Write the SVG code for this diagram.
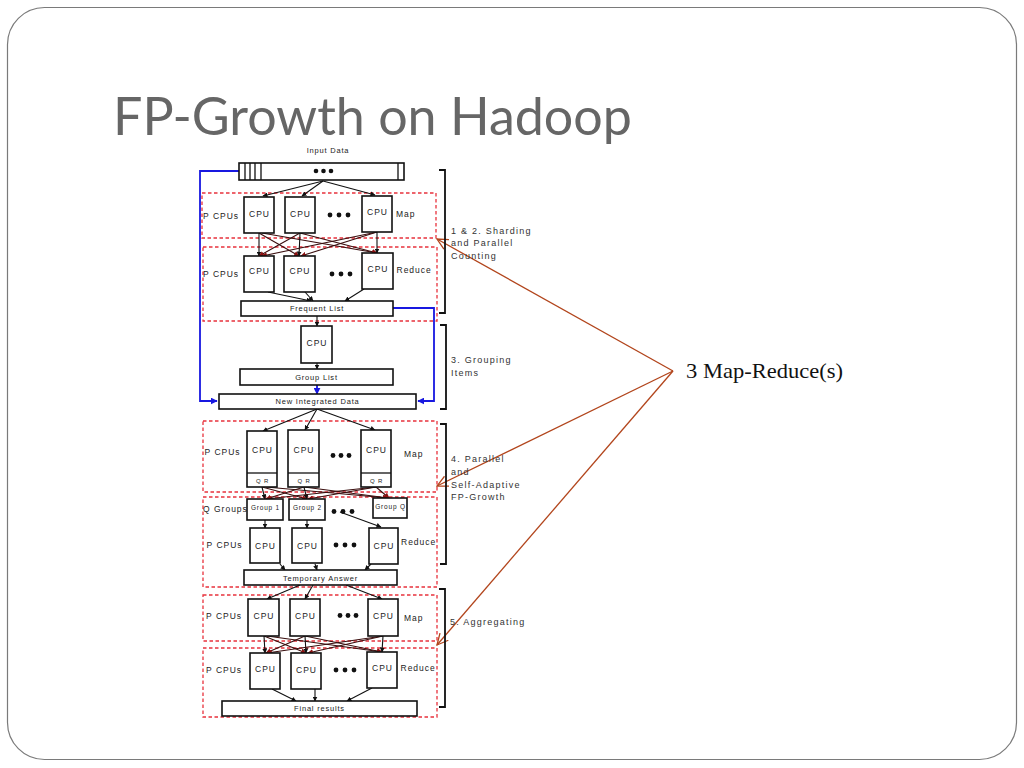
<svg xmlns="http://www.w3.org/2000/svg" width="1024" height="768" viewBox="0 0 1024 768">
<defs>
<style>
.frame{fill:#fff;stroke:#7a7a7a;stroke-width:1.2}
.title{font-family:Lato,"Liberation Sans",sans-serif;font-size:52px;fill:#666}
.note{font-family:"Liberation Serif",serif;font-size:21px;fill:#111}
.box{fill:#fff;stroke:#111;stroke-width:1.6}
.t{font-family:"Liberation Sans",Arial,sans-serif;font-size:8.5px;letter-spacing:1px;fill:#222}
.c{text-anchor:middle}
.s{font-size:7.5px;letter-spacing:0.8px}
.g{font-size:6.5px;letter-spacing:0.8px}
.q{font-size:6px;letter-spacing:0.8px}
.sec{font-family:"Liberation Sans",Arial,sans-serif;font-size:9px;letter-spacing:1.25px;fill:#333}
.dash{fill:none;stroke:#e8323c;stroke-width:1.3;stroke-dasharray:3.5 2.5}
.e{fill:none;stroke:#111;stroke-width:1.1;marker-end:url(#ah)}
.x{fill:none;stroke:#3a0e0e;stroke-width:1.1;marker-end:url(#ahr)}
.blue{fill:none;stroke:#1818e0;stroke-width:1.8}
.brk{fill:none;stroke:#111;stroke-width:1.8}
.ann{fill:none;stroke:#b2451c;stroke-width:1.3;marker-end:url(#oh)}
.dot{fill:#111}
</style>
<marker id="ah" viewBox="0 0 10 10" refX="9" refY="5" markerWidth="5" markerHeight="5" orient="auto" markerUnits="userSpaceOnUse"><path d="M0,0L10,5L0,10z" fill="#111"/></marker>
<marker id="ahr" viewBox="0 0 10 10" refX="9" refY="5" markerWidth="5.5" markerHeight="5.5" orient="auto" markerUnits="userSpaceOnUse"><path d="M0,0L10,5L0,10z" fill="#8a1010"/></marker>
<marker id="ab" viewBox="0 0 10 10" refX="9" refY="5" markerWidth="7" markerHeight="7" orient="auto" markerUnits="userSpaceOnUse"><path d="M0,0L10,5L0,10z" fill="#1818e0"/></marker>
<marker id="oh" viewBox="0 0 12 12" refX="11" refY="6" markerWidth="12" markerHeight="12" orient="auto" markerUnits="userSpaceOnUse"><path d="M0,0.5L11,6L0,11.5" fill="none" stroke="#b2451c" stroke-width="1.3"/></marker>
</defs>

<rect class="frame" x="7.5" y="7.5" width="1009" height="752" rx="37" ry="37"/>
<text class="title" x="113" y="135" textLength="519" lengthAdjust="spacingAndGlyphs">FP-Growth on Hadoop</text>

<!-- dashed regions -->
<g id="regions">
<rect class="dash" x="202" y="193" width="234" height="45"/>
<rect class="dash" x="203" y="247" width="234" height="74"/>
<rect class="dash" x="203" y="421" width="234" height="71"/>
<rect class="dash" x="203" y="497" width="234" height="90"/>
<rect class="dash" x="203" y="595" width="234" height="46"/>
<rect class="dash" x="203" y="648" width="234" height="69"/>
</g>

<!-- connectors -->
<g id="connectors">
<path class="blue" d="M239,171H200V401H217" marker-end="url(#ab)"/>
<path class="blue" d="M393,308H434V401H418" marker-end="url(#ab)"/>
<path class="blue" d="M317,385V394" marker-end="url(#ab)"/>

<path class="e" d="M323,181L263,196"/>
<path class="e" d="M323,181L302,196"/>
<path class="e" d="M323,181L375,195"/>

<path class="e" d="M259,233L259,256"/>
<path class="x" d="M259,233L299,256"/>
<path class="x" d="M262,233L377,253"/>
<path class="x" d="M300,233L259,256"/>
<path class="e" d="M300,233L299,256"/>
<path class="x" d="M300,233L377,253"/>
<path class="x" d="M377,232L262,256"/>
<path class="x" d="M377,232L301,256"/>
<path class="e" d="M377,232L377,253"/>

<path class="e" d="M268,292L311,301"/>
<path class="e" d="M305,292L313,301"/>
<path class="e" d="M364,289L345,301"/>

<path class="e" d="M317,316V326"/>
<path class="e" d="M317,363V369"/>

<path class="e" d="M317,409L263,431"/>
<path class="e" d="M317,409L305,430"/>
<path class="e" d="M317,409L375,430"/>

<path class="e" d="M262,487L265,499"/>
<path class="x" d="M262,487L307,499"/>
<path class="x" d="M266,487L388,498"/>
<path class="x" d="M304,487L266,499"/>
<path class="e" d="M304,487L307,499"/>
<path class="x" d="M304,487L388,498"/>
<path class="x" d="M376,487L266,499"/>
<path class="x" d="M376,487L308,499"/>
<path class="x" d="M376,487L389,498"/>

<path class="e" d="M265,520V528"/>
<path class="e" d="M307,520V528"/>
<path class="e" d="M340,512L381,527"/>

<path class="e" d="M280,564L285,570"/>
<path class="e" d="M315,564L317,570"/>
<path class="e" d="M371,564L365,570"/>

<path class="e" d="M300,585L267,599"/>
<path class="e" d="M313,585L305,599"/>
<path class="e" d="M346,585L382,599"/>

<path class="e" d="M264,636L265,653"/>
<path class="x" d="M264,636L306,653"/>
<path class="x" d="M267,636L382,652"/>
<path class="x" d="M305,636L266,653"/>
<path class="e" d="M305,636L306,653"/>
<path class="x" d="M305,636L382,652"/>
<path class="x" d="M383,636L267,653"/>
<path class="x" d="M383,636L308,653"/>
<path class="e" d="M383,636L382,652"/>

<path class="e" d="M272,689L296,701"/>
<path class="e" d="M315,689L315,701"/>
<path class="e" d="M372,688L347,701"/>

<path class="ann" d="M673,371L437,239"/>
<path class="ann" d="M673,371L437,486"/>
<path class="ann" d="M673,371L437,645"/>
</g>

<!-- brackets -->
<g id="brackets">
<path class="brk" d="M439,170H445V313H439"/>
<path class="brk" d="M440,325H446V409H440"/>
<path class="brk" d="M440,424H446V564H440"/>
<path class="brk" d="M439,589H445V707H439"/>
</g>

<!-- nodes -->
<g id="input-data">
<text class="t s c" x="328" y="153">Input Data</text>
<rect class="box" x="239" y="163" width="165" height="17"/>
<path d="M245,163V180M250,163V180M255,163V180M261,163V180M398,163V180" stroke="#111" stroke-width="1.3"/>
<circle class="dot" cx="316" cy="171" r="2.3"/><circle class="dot" cx="323.5" cy="171" r="2.3"/><circle class="dot" cx="331" cy="171" r="2.3"/>
</g>

<g id="s1-map">
<text class="t" x="203" y="218.5">P CPUs</text>
<rect class="box" x="244" y="197" width="30" height="36"/><text class="t c" x="259.5" y="216.5">CPU</text>
<rect class="box" x="285" y="197" width="30" height="36"/><text class="t c" x="300.5" y="216.5">CPU</text>
<circle class="dot" cx="330" cy="215" r="2.4"/><circle class="dot" cx="339" cy="215" r="2.4"/><circle class="dot" cx="348" cy="215" r="2.4"/>
<rect class="box" x="362" y="196" width="30" height="36"/><text class="t c" x="377.5" y="215">CPU</text>
<text class="t" x="396" y="217">Map</text>
</g>

<g id="s1-reduce">
<text class="t" x="203" y="276.5">P CPUs</text>
<rect class="box" x="244" y="256" width="30" height="36"/><text class="t c" x="259.5" y="274">CPU</text>
<rect class="box" x="284" y="256" width="31" height="36"/><text class="t c" x="300" y="274">CPU</text>
<circle class="dot" cx="332" cy="274" r="2.4"/><circle class="dot" cx="341" cy="274" r="2.4"/><circle class="dot" cx="350" cy="274" r="2.4"/>
<rect class="box" x="362" y="253" width="31" height="36"/><text class="t c" x="378" y="272">CPU</text>
<text class="t" x="396.5" y="273">Reduce</text>
</g>

<g id="frequent-list">
<rect class="box" x="241" y="301" width="152" height="15"/><text class="t s c" x="317" y="311">Frequent List</text>
</g>

<g id="s3-cpu">
<rect class="box" x="301" y="326" width="31" height="37"/><text class="t c" x="317" y="346">CPU</text>
</g>

<g id="group-list">
<rect class="box" x="240" y="369" width="153" height="16"/><text class="t s c" x="316.5" y="379.5">Group List</text>
</g>

<g id="new-integrated-data">
<rect class="box" x="219" y="394" width="197" height="15"/><text class="t s c" x="317.5" y="404">New Integrated Data</text>
</g>

<g id="s4-map">
<text class="t" x="204.5" y="455">P CPUs</text>
<rect class="box" x="247" y="431" width="30" height="56"/><path d="M247,473H277" stroke="#111" stroke-width="1.3"/>
<text class="t c" x="262.5" y="453">CPU</text><text class="t q c" x="262.5" y="482.5">Q R</text>
<rect class="box" x="288" y="430" width="31" height="57"/><path d="M288,473H319" stroke="#111" stroke-width="1.3"/>
<text class="t c" x="304" y="452.5">CPU</text><text class="t q c" x="304" y="482.5">Q R</text>
<circle class="dot" cx="333" cy="455.5" r="2.4"/><circle class="dot" cx="341" cy="455.5" r="2.4"/><circle class="dot" cx="349" cy="455.5" r="2.4"/>
<rect class="box" x="361" y="430" width="30" height="57"/><path d="M361,473H391" stroke="#111" stroke-width="1.3"/>
<text class="t c" x="376.5" y="452.5">CPU</text><text class="t q c" x="376.5" y="482.5">Q R</text>
<text class="t" x="404" y="456.5">Map</text>
</g>

<g id="s4-groups">
<text class="t" x="203" y="511.5">Q Groups</text>
<rect class="box" x="247" y="499" width="36" height="21"/><text class="t g c" x="265.5" y="510">Group 1</text>
<rect class="box" x="289" y="499" width="36" height="21"/><text class="t g c" x="307.5" y="510">Group 2</text>
<circle class="dot" cx="334" cy="511.5" r="2.4"/><circle class="dot" cx="343" cy="511.5" r="2.4"/><circle class="dot" cx="352" cy="511.5" r="2.4"/>
<rect class="box" x="373" y="498" width="34" height="20"/><text class="t g c" x="390.5" y="509">Group Q</text>
</g>

<g id="s4-reduce">
<text class="t" x="206.5" y="548">P CPUs</text>
<rect class="box" x="250" y="528" width="30" height="35"/><text class="t c" x="265.5" y="549">CPU</text>
<rect class="box" x="292" y="528" width="30" height="35"/><text class="t c" x="307.5" y="549">CPU</text>
<circle class="dot" cx="336" cy="545" r="2.4"/><circle class="dot" cx="345" cy="545" r="2.4"/><circle class="dot" cx="354" cy="545" r="2.4"/>
<rect class="box" x="369" y="528" width="29" height="36"/><text class="t c" x="384" y="549">CPU</text>
<text class="t" x="401" y="545">Reduce</text>
</g>

<g id="temporary-answer">
<rect class="box" x="244" y="570" width="153" height="15"/><text class="t s c" x="320.5" y="580.5">Temporary Answer</text>
</g>

<g id="s5-map">
<text class="t" x="206" y="619">P CPUs</text>
<rect class="box" x="248" y="599" width="31" height="37"/><text class="t c" x="264" y="618.5">CPU</text>
<rect class="box" x="290" y="599" width="30" height="37"/><text class="t c" x="305.5" y="618.5">CPU</text>
<circle class="dot" cx="340" cy="615.5" r="2.4"/><circle class="dot" cx="348" cy="615.5" r="2.4"/><circle class="dot" cx="356" cy="615.5" r="2.4"/>
<rect class="box" x="368" y="599" width="30" height="37"/><text class="t c" x="383.5" y="618.5">CPU</text>
<text class="t" x="404" y="621">Map</text>
</g>

<g id="s5-reduce">
<text class="t" x="206" y="672.5">P CPUs</text>
<rect class="box" x="250" y="653" width="30" height="36"/><text class="t c" x="265.5" y="671.5">CPU</text>
<rect class="box" x="291" y="653" width="30" height="36"/><text class="t c" x="306.5" y="672.5">CPU</text>
<circle class="dot" cx="336" cy="670" r="2.4"/><circle class="dot" cx="345" cy="670" r="2.4"/><circle class="dot" cx="354" cy="670" r="2.4"/>
<rect class="box" x="367" y="652" width="30" height="36"/><text class="t c" x="382.5" y="670.5">CPU</text>
<text class="t" x="400.5" y="671">Reduce</text>
</g>

<g id="final-results">
<rect class="box" x="222" y="701" width="195" height="15"/><text class="t s c" x="319.5" y="711">Final results</text>
</g>

<g id="section-labels">
<text class="sec" x="451" y="233.5">1 &amp; 2. Sharding</text>
<text class="sec" x="451" y="246">and Parallel</text>
<text class="sec" x="451" y="258.5">Counting</text>
<text class="sec" x="451" y="363">3. Grouping</text>
<text class="sec" x="451" y="375.5">Items</text>
<text class="sec" x="451" y="461.5">4. Parallel</text>
<text class="sec" x="451" y="474.5">and</text>
<text class="sec" x="451" y="487.5">Self-Adaptive</text>
<text class="sec" x="451" y="500">FP-Growth</text>
<text class="sec" x="450" y="625">5. Aggregating</text>
</g>

<g id="annotation">
<text class="note" x="686" y="377.5" textLength="157" lengthAdjust="spacingAndGlyphs">3 Map-Reduce(s)</text>
</g>
</svg>
